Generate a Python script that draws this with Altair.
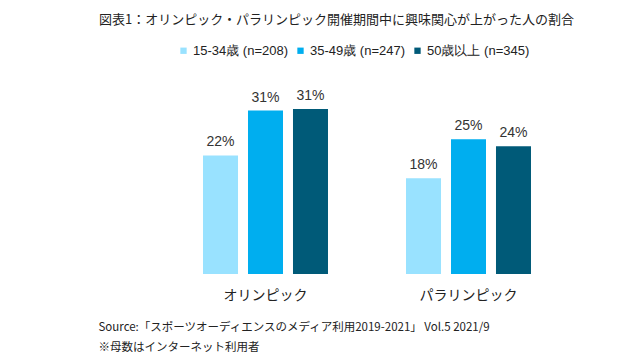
import altair as alt
import pandas as pd

categories = ["オリンピック", "パラリンピック"]
groups = ["15-34歳 (n=208)", "35-49歳 (n=247)", "50歳以上 (n=345)"]
olympic = [22.2, 30.6, 30.9]
paralympic = [17.9, 25.2, 23.9]
labels_olympic = ["22%", "31%", "31%"]
labels_paralympic = ["18%", "25%", "24%"]
colors = ["#99E2FF", "#00AEEF", "#005A78"]

rows = []
for g, v, l in zip(groups, olympic, labels_olympic):
    rows.append({"cat": categories[0], "grp": g, "val": v, "lab": l})
for g, v, l in zip(groups, paralympic, labels_paralympic):
    rows.append({"cat": categories[1], "grp": g, "val": v, "lab": l})
df = pd.DataFrame(rows)

JP = "Noto Sans CJK JP"
ARIAL = "Liberation Sans"

x = alt.X(
    "cat:N",
    sort=categories,
    scale=alt.Scale(paddingInner=0, paddingOuter=0),
    axis=alt.Axis(
        title=["Source:「スポーツオーディエンスのメディア利用2019-2021」 Vol.5 2021/9",
               "※母数はインターネット利用者"],
        titleFont=JP, titleFontSize=11.5, titleFontWeight="normal", titleColor="#222222",
        titleX=-66, titleY=47, titleAlign="left", titleAnchor="start", titleBaseline="top",
        titleLineHeight=20, titleAngle=0,
        labelAngle=0, labelFont=JP, labelFontSize=14, labelColor="#222222",
        labelPadding=14, domain=False, ticks=False, grid=False,
    ),
)
xo = alt.XOffset(
    "grp:N", sort=groups,
    scale=alt.Scale(paddingInner=0.222, paddingOuter=0.867),
)
y = alt.Y("val:Q", scale=alt.Scale(domain=[0, 35], nice=False), axis=None)

bars = alt.Chart(df).mark_bar().encode(
    x=x, xOffset=xo, y=y,
    color=alt.Color(
        "grp:N", sort=groups,
        scale=alt.Scale(domain=groups, range=colors),
        legend=alt.Legend(
            title=None, orient="none", direction="horizontal",
            legendX=13, legendY=-43,
            symbolType="square", symbolSize=40, symbolStrokeWidth=0,
            labelFont=ARIAL, labelFontSize=13, labelColor="#222222",
            columnPadding=5, labelOffset=3,
        ),
    ),
)
text = alt.Chart(df).mark_text(
    baseline="bottom", dy=-6, font=ARIAL, fontSize=14, color="#333333"
).encode(x=x, xOffset=xo, y=y, text="lab:N")

chart = alt.layer(bars, text).properties(
    width=406, height=187,
    autosize=alt.AutoSizeParams(type="none"),
    padding={"left": 156, "top": 79, "right": 62, "bottom": 78},
    title=alt.TitleParams(
        "図表1：オリンピック・パラリンピック開催期間中に興味関心が上がった人の割合",
        font=JP, fontSize=13, fontWeight="normal", color="#222222",
        anchor="start", dx=1, offset=17,
    ),
).configure_view(stroke=None)

chart.save("out.html", embed_options={"renderer": "svg", "actions": False})
